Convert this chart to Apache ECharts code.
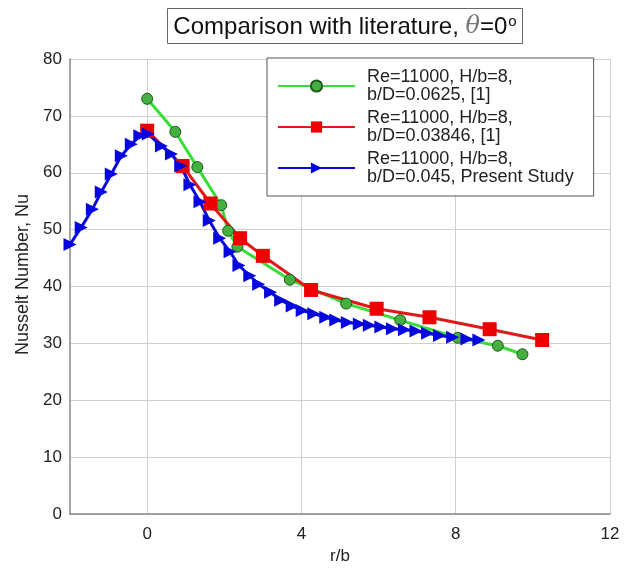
<!DOCTYPE html>
<html>
<head>
<meta charset="utf-8">
<script src="https://cdn.jsdelivr.net/npm/echarts@6/dist/echarts.min.js"></script>
<style>
  html, body { margin: 0; padding: 0; background: #fff; }
  #chart { width: 641px; height: 570px; }
</style>
</head>
<body>
<div id="chart"></div>
<script>
// data: [r/b, Nu]
var greenPts = [[0, 73], [0.73, 67.2], [1.3, 61], [1.92, 54.3], [2.1, 49.8], [2.34, 47],
  [3.7, 41.2], [5.16, 37], [6.56, 34.1], [8.05, 31], [9.09, 29.6], [9.73, 28.1]];
var redPts = [[0, 67.4], [0.92, 61.2], [1.64, 54.6], [2.41, 48.5], [3.0, 45.4], [4.25, 39.4],
  [5.95, 36.1], [7.32, 34.6], [8.88, 32.5], [10.24, 30.6]];
var bluePts = [[-2.0, 47.4], [-1.71, 50.4], [-1.42, 53.6], [-1.19, 56.6], [-0.93, 59.8], [-0.67, 63.0],
  [-0.41, 65.0], [-0.19, 66.5], [0.03, 66.8], [0.37, 64.7], [0.63, 63.3], [0.87, 61.2],
  [1.11, 57.9], [1.37, 54.9], [1.61, 51.6], [1.88, 48.5], [2.15, 46.1], [2.38, 43.7],
  [2.66, 41.9], [2.89, 40.4], [3.2, 39.0], [3.46, 37.6], [3.76, 36.6], [4.02, 35.8],
  [4.32, 35.2], [4.63, 34.6], [4.89, 34.1], [5.19, 33.7], [5.5, 33.4], [5.76, 33.2],
  [6.06, 32.9], [6.36, 32.6], [6.67, 32.4], [6.97, 32.2], [7.27, 31.8], [7.58, 31.4],
  [7.92, 31.1], [8.29, 30.8], [8.6, 30.6]];
var seriesNames = [
  'Re=11000, H/b=8,\nb/D=0.0625, [1]',
  'Re=11000, H/b=8,\nb/D=0.03846, [1]',
  'Re=11000, H/b=8,\nb/D=0.045, Present Study'
];
var xTicks = [0, 4, 8, 12];

var chart = echarts.init(document.getElementById('chart'));
var fontFam = 'Liberation Sans, Arial, sans-serif';
var option = {
  backgroundColor: '#fff',
  animation: false,
  title: {
    text: '{t|Comparison with literature, }{th|θ}{t|=0}{sup|o}',
    left: 339,
    textAlign: 'center',
    top: 8,
    borderColor: '#666',
    borderWidth: 1,
    padding: [6, 6, 5, 6],
    textStyle: {
      rich: {
        t: { fontSize: 24, color: '#111', fontWeight: 'normal', fontFamily: fontFam },
        th: { fontSize: 24, color: '#777', fontStyle: 'italic', fontWeight: 'normal', fontFamily: 'DejaVu Serif, serif' },
        sup: { fontSize: 15, color: '#111', fontWeight: 'normal', fontFamily: fontFam, verticalAlign: 'top', padding: [0, 0, 11, 1] }
      }
    }
  },
  legend: {
    orient: 'vertical',
    left: 267,
    top: 58,
    backgroundColor: '#fff',
    borderColor: '#555',
    borderWidth: 1,
    padding: [10, 20, 10, 10],
    itemWidth: 77,
    itemHeight: 14,
    itemGap: 5,
    textStyle: { fontSize: 18, color: '#222', fontFamily: fontFam, lineHeight: 18, padding: [0, 0, 0, 7] },
    data: seriesNames
  },
  grid: { left: 70, right: 31, top: 59, bottom: 51 },
  xAxis: {
    type: 'value',
    min: -2,
    max: 12,
    interval: 2,
    name: 'r/b',
    nameLocation: 'middle',
    nameGap: 30,
    nameTextStyle: { fontSize: 17, color: '#222', fontFamily: fontFam },
    axisLine: { onZero: false, lineStyle: { color: '#888', width: 1.5 } },
    axisTick: { show: false },
    axisLabel: {
      fontSize: 17, color: '#222', fontFamily: fontFam, margin: 12,
      formatter: function (v) { return xTicks.indexOf(v) >= 0 ? String(v) : ''; }
    },
    splitLine: {
      show: true,
      // only every other line (0, 4, 8, 12) is visible
      lineStyle: { color: ['rgba(0,0,0,0)', '#cfcfcf'], width: 1 }
    }
  },
  yAxis: {
    type: 'value',
    min: 0,
    max: 80,
    interval: 10,
    name: 'Nusselt Number, Nu',
    nameLocation: 'middle',
    nameGap: 22,
    nameTextStyle: { fontSize: 18, color: '#222', fontFamily: fontFam, padding: [0, 0, 0, 24] },
    axisLine: { show: true, onZero: false, lineStyle: { color: '#888', width: 1.5 } },
    axisTick: { show: false },
    axisLabel: { fontSize: 17, color: '#222', fontFamily: fontFam, margin: 8 },
    splitLine: { lineStyle: { color: '#cfcfcf', width: 1 } }
  },
  series: [
    {
      name: seriesNames[0],
      type: 'line',
      data: greenPts,
      symbol: 'circle',
      symbolSize: 11,
      lineStyle: { color: '#38de38', width: 3 },
      itemStyle: { color: '#44b040', borderColor: '#1d5a1d', borderWidth: 1 }
    },
    {
      name: seriesNames[1],
      type: 'line',
      data: redPts,
      symbol: 'rect',
      symbolSize: 14,
      lineStyle: { color: '#e01818', width: 3 },
      itemStyle: { color: '#ee0000' }
    },
    {
      name: seriesNames[2],
      type: 'line',
      data: bluePts,
      symbol: 'triangle',
      symbolRotate: -90,
      symbolSize: 13,
      lineStyle: { color: '#0a0ad8', width: 3 },
      itemStyle: { color: '#0505e0' }
    }
  ]
};
chart.setOption(option);
</script>
</body>
</html>
